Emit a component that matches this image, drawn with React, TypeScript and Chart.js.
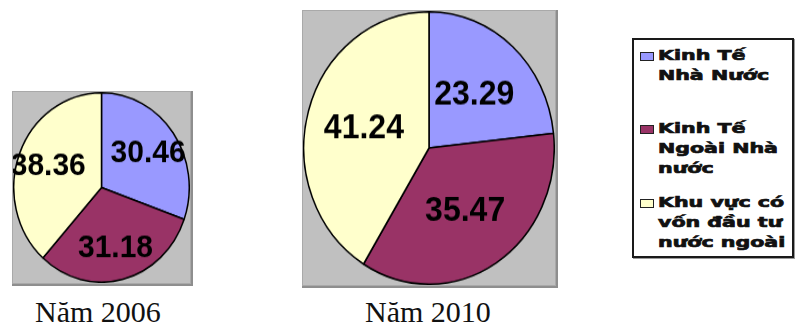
import React, { useEffect, useRef } from "react";
import { Chart, registerables } from "chart.js";

Chart.register(...registerables);

// Ownership sectors (legend text, already split into lines)
const categories: string[][] = [
  ["Kinh Tế", "Nhà Nước"],
  ["Kinh Tế", "Ngoài Nhà", "nước"],
  ["Khu vực có", "vốn đầu tư", "nước ngoài"],
];
const sliceColors = ["#9999ff", "#993366", "#ffffcc"];
const years = ["Năm 2006", "Năm 2010"];
const values2006 = [30.46, 31.18, 38.36];
const values2010 = [23.29, 35.47, 41.24];

// Writes each slice's value inside the slice, along its middle angle
const valueLabels = {
  id: "valueLabels",
  afterDatasetsDraw(chart: any, _args: any, opts: any) {
    const { ctx } = chart;
    const meta = chart.getDatasetMeta(0);
    const data = chart.data.datasets[0].data as number[];
    ctx.save();
    ctx.font = `bold ${opts.size}px "Liberation Sans", Arial, sans-serif`;
    ctx.fillStyle = "#000";
    ctx.textAlign = "center";
    ctx.textBaseline = "middle";
    meta.data.forEach((arc: any, i: number) => {
      const p = arc.getProps(["x", "y", "startAngle", "endAngle", "outerRadius"], true);
      const mid = (p.startAngle + p.endAngle) / 2;
      const r = p.outerRadius * opts.factor;
      ctx.fillText(data[i].toFixed(2), p.x + Math.cos(mid) * r, p.y + Math.sin(mid) * r + 1);
    });
    ctx.restore();
  },
};

type PieProps = {
  values: number[];
  left: number;
  top: number;
  width: number;
  height: number;
  fontSize: number;
  factor: number;
};

function YearPie({ values, left, top, width, height, fontSize, factor }: PieProps) {
  const ref = useRef<HTMLCanvasElement>(null);
  useEffect(() => {
    const chart = new Chart(ref.current!, {
      type: "pie",
      data: {
        labels: categories as any,
        datasets: [
          {
            data: values,
            backgroundColor: sliceColors,
            borderColor: "#000",
            borderWidth: 1.5,
          },
        ],
      },
      options: {
        responsive: false,
        animation: false,
        layout: { padding: 0 },
        plugins: {
          legend: { display: false },
          tooltip: { enabled: false },
          valueLabels: { size: fontSize, factor },
        } as any,
      },
      plugins: [valueLabels],
    });
    return () => chart.destroy();
  }, [values, fontSize, factor]);

  return (
    <div
      style={{
        position: "absolute",
        left,
        top,
        width,
        height,
        background: "#c0c0c0",
        boxShadow: "0 0 0 1px #a9a9a9, 1px 1px 0 2px #8e8e8e",
      }}
    >
      <canvas
        ref={ref}
        width={width}
        height={width}
        style={{
          display: "block",
          width,
          height: width,
          transform: `scaleY(${height / width})`,
          transformOrigin: "top left",
        }}
      />
    </div>
  );
}

function Legend() {
  const itemTops = [5, 78, 152];
  return (
    <div
      style={{
        position: "absolute",
        left: 632,
        top: 38,
        width: 162,
        height: 220,
        boxSizing: "border-box",
        border: "2px solid #1a1a1a",
        boxShadow: "1px 1px 0 #9a9a9a",
        background: "#fff",
      }}
    >
      {categories.map((lines, i) => (
        <React.Fragment key={i}>
          <div
            style={{
              position: "absolute",
              left: 6,
              top: itemTops[i] + 7,
              width: 14,
              height: 9,
              boxSizing: "border-box",
              border: "1.5px solid #222",
              background: sliceColors[i],
            }}
          />
          <div style={{ position: "absolute", left: 24, top: itemTops[i] }}>
            {lines.map((line, j) => (
              <div
                key={j}
                style={{
                  font: 'bold 14px "DejaVu Sans", sans-serif',
                  lineHeight: "20px",
                  whiteSpace: "nowrap",
                  color: "#111",
                  WebkitTextStroke: "0.7px #111",
                  transform: "scaleX(1.47)",
                  transformOrigin: "left center",
                }}
              >
                {line}
              </div>
            ))}
          </div>
        </React.Fragment>
      ))}
    </div>
  );
}

const captionStyle: React.CSSProperties = {
  position: "absolute",
  top: 295,
  font: '30px "Liberation Serif", "Times New Roman", serif',
  lineHeight: "34px",
  color: "#111",
  whiteSpace: "nowrap",
};

export default function App() {
  return (
    <div
      style={{
        position: "fixed",
        left: 0,
        top: 0,
        width: 796,
        height: 334,
        background: "#fff",
        overflow: "hidden",
      }}
    >
      <YearPie values={values2006} left={13} top={92} width={177} height={191} fontSize={30} factor={0.65} />
      <YearPie values={values2010} left={303} top={11} width={252} height={274} fontSize={32} factor={0.54} />
      <Legend />
      <div style={{ ...captionStyle, left: 35 }}>{years[0]}</div>
      <div style={{ ...captionStyle, left: 365 }}>{years[1]}</div>
    </div>
  );
}
